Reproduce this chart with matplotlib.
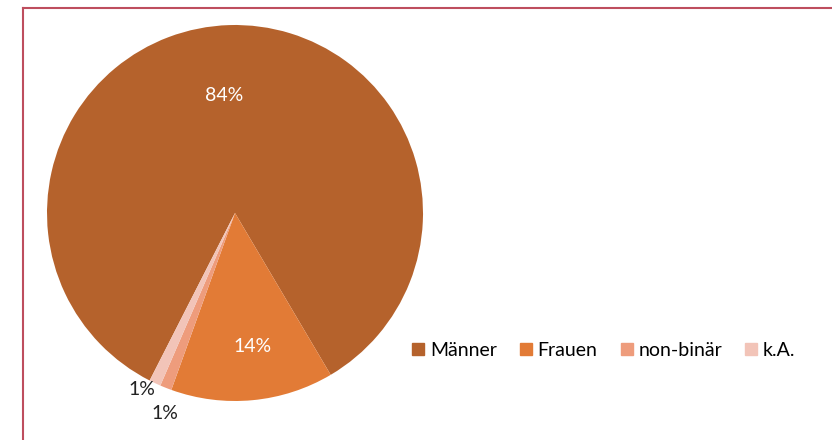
import numpy as np
import matplotlib.pyplot as plt
from matplotlib.lines import Line2D

labels = ['Männer', 'Frauen', 'non-binär', 'k.A.']
values = [84, 14, 1, 1]
colors = ['#B5622C', '#E27B36', '#EE9C7C', '#F2C4B8']
pct_colors = ['white', 'white', '#222222', '#222222']
# label placement (radius fraction, angle shift in degrees)
pct_dist = [0.63, 0.715, 1.13, 1.063]
pct_shift = [3.5, 1.9, 2.4, -2.5]

plt.rcParams['font.family'] = ['Lato', 'DejaVu Sans']

fig = plt.figure(figsize=(8.32, 4.40), dpi=100)

# pie, centre ~ (235, 213) px, radius ~ 188 px
ax = fig.add_axes([47 / 832, (440 - 213 - 188) / 440, 376 / 832, 376 / 440])
wedges, texts, autotexts = ax.pie(values, colors=colors, startangle=90 - 207,
                                  counterclock=False, radius=1.0,
                                  autopct=lambda p: '%.0f%%' % p,
                                  wedgeprops=dict(linewidth=0))
for i, (w, t) in enumerate(zip(wedges, autotexts)):
    mid = np.deg2rad((w.theta1 + w.theta2) / 2 + pct_shift[i])
    t.set_position((pct_dist[i] * np.cos(mid), pct_dist[i] * np.sin(mid)))
    t.set_color(pct_colors[i])
    t.set_fontsize(14)
ax.set_xlim(-1, 1)
ax.set_ylim(-1, 1)
ax.set_aspect('equal')

handles = [Line2D([], [], marker='s', linestyle='none', markersize=8.5,
                  markerfacecolor=c, markeredgecolor=c) for c in colors]
fig.legend(handles, labels, loc='center', bbox_to_anchor=(604 / 832, 1 - 350 / 440),
           ncol=4, frameon=False, fontsize=14, handlelength=0.6,
           handletextpad=0.3, columnspacing=1.2)

# frame of the original chart (cut at right and bottom)
fig.add_artist(Line2D([23 / 832, 1], [1 - 8 / 440, 1 - 8 / 440], color='#BE4E5E', lw=1.5))
fig.add_artist(Line2D([23 / 832, 23 / 832], [1 - 8 / 440, 0], color='#BE4E5E', lw=1.5))

fig.savefig('out.png', dpi=100)
